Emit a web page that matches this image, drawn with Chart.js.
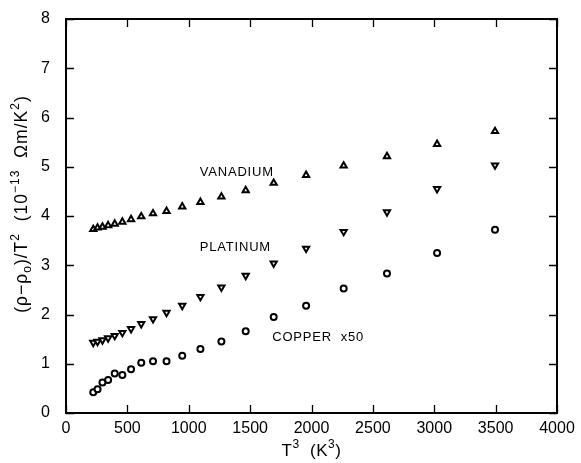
<!DOCTYPE html>
<html>
<head>
<meta charset="utf-8">
<script src="https://cdn.jsdelivr.net/npm/chart.js@4/dist/chart.umd.min.js"></script>
<style>
  html, body { margin: 0; padding: 0; background: #fff; }
  #wrap { width: 581px; height: 463px; position: relative; }
</style>
</head>
<body>
<div id="wrap"><canvas id="c" width="581" height="463"></canvas></div>
<script>
// T^3 values (K^3), shared by all three series
const t3 = [222, 257, 297, 343, 397, 459, 530, 613, 709, 819, 947, 1095, 1266, 1464, 1692, 1956, 2262, 2615, 3023, 3495];
// (rho - rho0)/T^2 in 10^-13 Ohm m / K^2
const vanadium = [3.73, 3.76, 3.78, 3.81, 3.84, 3.88, 3.93, 3.99, 4.05, 4.10, 4.19, 4.28, 4.39, 4.52, 4.67, 4.83, 5.02, 5.21, 5.46, 5.72];
const platinum = [1.43, 1.45, 1.48, 1.52, 1.57, 1.63, 1.71, 1.81, 1.91, 2.04, 2.18, 2.36, 2.55, 2.79, 3.04, 3.34, 3.68, 4.08, 4.55, 5.03];
const copperX50 = [0.42, 0.48, 0.62, 0.67, 0.80, 0.77, 0.89, 1.02, 1.05, 1.05, 1.16, 1.30, 1.45, 1.66, 1.95, 2.18, 2.53, 2.83, 3.25, 3.72];
const xTicks = [0, 500, 1000, 1500, 2000, 2500, 3000, 3500, 4000];
const yTicks = [0, 1, 2, 3, 4, 5, 6, 7, 8];
// in-plot labels: [text, x, y]
const labels = [["VANADIUM", 1090, 4.89], ["PLATINUM", 1090, 3.36], ["COPPER  x50", 1680, 1.53]];
// axis titles as [text, mode] segments; mode: 0 normal, 1 superscript, -1 subscript
const yTitle = [["(ρ−ρ", 0], ["o", -1], [")/T", 0], ["2", 1], ["  (10", 0], ["−13", 1], ["  Ωm/K", 0], ["2", 1], [")", 0]];
const xTitle = [["T", 0], ["3", 1], ["  (K", 0], ["3", 1], [")", 0]];

const pts = arr => arr.map((v, i) => ({ x: t3[i], y: v }));
const FONT = "'Liberation Sans', Arial, sans-serif";

function richWidth(ctx, segs, big, small) {
  let w = 0;
  segs.forEach(([t, m]) => { ctx.font = (m ? small : big) + 'px ' + FONT; w += ctx.measureText(t).width; });
  return w;
}
function drawRich(ctx, segs, big, small) {
  let x = 0;
  segs.forEach(([t, m]) => {
    ctx.font = (m ? small : big) + 'px ' + FONT;
    const dy = m === 1 ? -big * 0.45 : (m === -1 ? big * 0.22 : 0);
    ctx.fillText(t, x, dy);
    x += ctx.measureText(t).width;
  });
}

const framePlugin = {
  id: 'frame',
  afterDraw(chart) {
    const { ctx, chartArea: a, scales } = chart;
    ctx.save();
    ctx.strokeStyle = '#000';
    ctx.lineWidth = 2;
    ctx.strokeRect(a.left, a.top, a.right - a.left, a.bottom - a.top);
    ctx.lineWidth = 1.3;
    const L = 8;
    ctx.beginPath();
    xTicks.forEach(v => {
      const px = Math.round(scales.x.getPixelForValue(v)) + 0.5;
      ctx.moveTo(px, a.bottom); ctx.lineTo(px, a.bottom - L);
      ctx.moveTo(px, a.top); ctx.lineTo(px, a.top + L);
    });
    yTicks.forEach(v => {
      const py = Math.round(scales.y.getPixelForValue(v)) + 0.5;
      ctx.moveTo(a.left, py); ctx.lineTo(a.left + L, py);
      ctx.moveTo(a.right, py); ctx.lineTo(a.right - L, py);
    });
    ctx.stroke();
    ctx.fillStyle = '#000';
    ctx.font = '13px ' + FONT;
    ctx.letterSpacing = '0.8px';
    ctx.textBaseline = 'middle';
    ctx.textAlign = 'left';
    labels.forEach(([t, x, y]) => {
      ctx.fillText(t, scales.x.getPixelForValue(x), scales.y.getPixelForValue(y));
    });
    ctx.textBaseline = 'alphabetic';
    // y title (rotated)
    ctx.letterSpacing = '1px';
    const wy = richWidth(ctx, yTitle, 17.5, 12);
    ctx.save();
    ctx.translate(27, 204 + wy / 2);
    ctx.rotate(-Math.PI / 2);
    drawRich(ctx, yTitle, 17.5, 12);
    ctx.restore();
    // x title
    ctx.letterSpacing = '0.5px';
    const wx = richWidth(ctx, xTitle, 17, 12);
    ctx.save();
    ctx.translate((a.left + a.right) / 2 - wx / 2, 456);
    drawRich(ctx, xTitle, 17, 12);
    ctx.restore();
    ctx.restore();
  }
};

const ds = (label, data, style, rot, r) => ({
  label, data: pts(data), pointStyle: style, rotation: rot,
  pointRadius: r, pointBorderWidth: 2, pointBackgroundColor: '#fff',
  pointBorderColor: '#000', showLine: false
});

new Chart(document.getElementById('c'), {
  type: 'scatter',
  data: {
    datasets: [
      ds('Vanadium', vanadium, 'triangle', 0, 3.6),
      ds('Platinum', platinum, 'triangle', 180, 3.6),
      ds('Copper x50', copperX50, 'circle', 0, 3)
    ]
  },
  options: {
    responsive: false,
    animation: false,
    layout: { padding: { top: 19, right: 24, left: 0, bottom: 0 } },
    plugins: { legend: { display: false }, tooltip: { enabled: false } },
    scales: {
      x: {
        type: 'linear', min: 0, max: 4000,
        afterBuildTicks: s => { s.ticks = xTicks.map(v => ({ value: v })); },
        afterFit: s => { s.height = 50; s.paddingRight = 0; s.paddingLeft = 0; },
        grid: { display: false, drawTicks: false },
        border: { display: false },
        ticks: { color: '#000', font: { family: FONT, size: 16 }, padding: 6, maxRotation: 0, callback: v => String(v) },
        title: { display: false }
      },
      y: {
        type: 'linear', min: 0, max: 8,
        afterBuildTicks: s => { s.ticks = yTicks.map(v => ({ value: v })); },
        afterFit: s => { s.width = 66; s.paddingTop = 0; s.paddingBottom = 0; },
        grid: { display: false, drawTicks: false },
        border: { display: false },
        ticks: { color: '#000', font: { family: FONT, size: 16 }, padding: 16, callback: v => String(v) },
        title: { display: false }
      }
    }
  },
  plugins: [framePlugin]
});
</script>
</body>
</html>
